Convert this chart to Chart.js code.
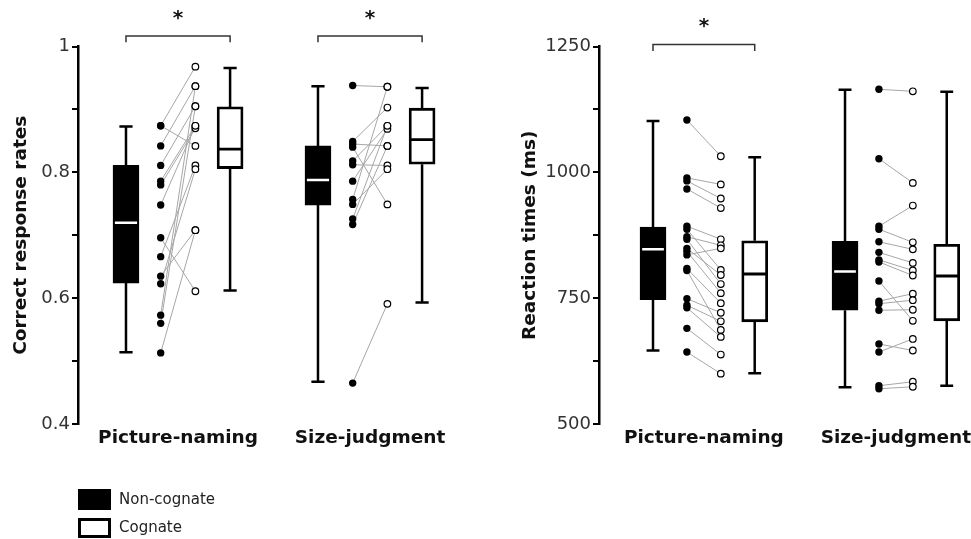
<!DOCTYPE html>
<html>
<head>
<meta charset="utf-8">
<script src="https://cdn.jsdelivr.net/npm/chart.js@4.4.0/dist/chart.umd.min.js"></script>
<style>
  body { margin: 0; background: #fff; width: 971px; height: 539px; overflow: hidden; position: relative; font-family: "DejaVu Sans", Verdana, sans-serif; }
  #accCanvas { position: absolute; left: 0; top: 0; }
  #rtCanvas { position: absolute; left: 490px; top: 0; }
  .lg-box { position: absolute; left: 78px; width: 33px; box-sizing: border-box; }
  .lg-text { position: absolute; left: 119px; font-size: 15px; color: #222; line-height: 18px; }
</style>
</head>
<body>
<canvas id="accCanvas" width="490" height="539"></canvas>
<canvas id="rtCanvas" width="500" height="539"></canvas>

<div class="lg-box" style="top:489px;height:21px;background:#000;"></div>
<div class="lg-text" style="top:490px;">Non-cognate</div>
<div class="lg-box" style="top:518px;height:20px;background:#fff;border:3px solid #000;"></div>
<div class="lg-text" style="top:518px;">Cognate</div>

<script>
// ---- data ----
const groupLabels = ['Picture-naming', 'Size-judgment'];

// box stats per group: [min, q1, median, q3, max]
const accBoxNonCog = [[0.514, 0.624, 0.720, 0.811, 0.873], [0.467, 0.748, 0.788, 0.842, 0.937]];
const accBoxCog    = [[0.612, 0.806, 0.837, 0.904, 0.966], [0.593, 0.813, 0.852, 0.902, 0.934]];

// participants, correct response rates (same index = same participant)
const accPNNonCog = [0.874, 0.874, 0.842, 0.811, 0.786, 0.780, 0.748, 0.696, 0.666, 0.635, 0.623, 0.573, 0.560, 0.513];
const accPNCog    = [0.968, 0.842, 0.937, 0.905, 0.874, 0.870, 0.874, 0.611, 0.811, 0.708, 0.805, 0.937, 0.905, 0.708];
const accSJNonCog = [0.938, 0.849, 0.845, 0.840, 0.818, 0.812, 0.786, 0.757, 0.749, 0.726, 0.717, 0.465];
const accSJCog    = [0.936, 0.903, 0.842, 0.749, 0.874, 0.811, 0.869, 0.936, 0.805, 0.874, 0.842, 0.591];

const rtBoxNonCog = [[646, 747, 847, 891, 1102], [573, 726, 803, 863, 1164]];
const rtBoxCog    = [[601, 703, 798, 864, 1030], [576, 705, 794, 857, 1160]];

// participants, reaction times (ms)
const rtPNNonCog = [1104, 989, 983, 967, 893, 887, 872, 867, 849, 843, 836, 809, 805, 749, 736, 731, 690, 643];
const rtPNCog    = [1032, 976, 948, 929, 867, 806, 855, 778, 796, 760, 849, 740, 687, 721, 704, 673, 638, 600];
const rtSJNonCog = [1165, 1027, 893, 887, 862, 841, 826, 822, 784, 744, 739, 726, 659, 643, 576, 570];
const rtSJCog    = [1161, 979, 934, 861, 847, 820, 805, 795, 705, 759, 746, 727, 646, 669, 584, 574];

// significant difference (*) per group
const accSig = [true, true];
const rtSig = [true, false];

const accTickLabels = ['0.4', '0.6', '0.8', '1'];
const rtTickLabels = ['500', '750', '1000', '1250'];

const FONT = '"DejaVu Sans", Verdana, sans-serif';

// draws the * above each bracket
const starPlugin = {
  id: 'sigStars',
  afterDatasetsDraw(chart, args, opts) {
    const { ctx, scales } = chart;
    ctx.save();
    ctx.font = 'bold 20px ' + FONT;
    ctx.fillStyle = '#111';
    ctx.textAlign = 'center';
    ctx.textBaseline = 'alphabetic';
    (opts.items || []).forEach(it => {
      const px = scales.x.getPixelForValue(it.x);
      const py = scales.y.getPixelForValue(it.y);
      ctx.fillText('*', px, py - 12);
    });
    ctx.restore();
  }
};

function boxLines(x, s, cap) {
  return [
    { x: x, y: s[0] }, { x: x, y: s[1] }, { x: x, y: null },
    { x: x, y: s[3] }, { x: x, y: s[4] }, { x: x, y: null },
    { x: x - cap, y: s[0] }, { x: x + cap, y: s[0] }, { x: x, y: null },
    { x: x - cap, y: s[4] }, { x: x + cap, y: s[4] }, { x: x, y: null }
  ];
}

function makePanel(canvasId, p) {
  const whisk = [], barsNC = [], barsC = [], medNC = [], medC = [];
  const pairs = [], dotsNC = [], dotsC = [], brackets = [], stars = [];

  p.offsets.forEach((off, g) => {
    const sNC = p.boxNC[g], sC = p.boxC[g];
    whisk.push(...boxLines(off, sNC, 0.19), ...boxLines(off + 3, sC, 0.19));
    barsNC.push({ x: off, y: [sNC[1], sNC[3]] });
    barsC.push({ x: off + 3, y: [sC[1], sC[3]] });
    medNC.push({ x: off - 0.32, y: sNC[2] }, { x: off + 0.32, y: sNC[2] }, { x: off, y: null });
    medC.push({ x: off + 3 - 0.36, y: sC[2] }, { x: off + 3 + 0.36, y: sC[2] }, { x: off + 3, y: null });
    p.nc[g].forEach((v, i) => {
      pairs.push({ x: off + 1, y: v }, { x: off + 2, y: p.c[g][i] }, { x: off + 1.5, y: null });
      dotsNC.push({ x: off + 1, y: v });
      dotsC.push({ x: off + 2, y: p.c[g][i] });
    });
    if (p.sig[g]) {
      brackets.push({ x: off, y: p.brLow }, { x: off, y: p.brTop }, { x: off + 3, y: p.brTop },
                    { x: off + 3, y: p.brLow }, { x: off, y: null });
      stars.push({ x: off + 1.5, y: p.brTop });
    }
  });

  const tickPos = p.offsets.map(o => o + 1.5);

  new Chart(document.getElementById(canvasId), {
    type: 'bar',
    data: {
      datasets: [
        { type: 'line', data: pairs, borderColor: '#a6a6a6', borderWidth: 1, pointRadius: 0, spanGaps: false, order: 5 },
        { type: 'line', data: whisk, borderColor: '#000', borderWidth: 2.5, pointRadius: 0, spanGaps: false, order: 4 },
        { type: 'bar', data: barsNC, backgroundColor: '#000', borderColor: '#000', borderWidth: 2,
          borderSkipped: false, barThickness: 26, grouped: false, order: 3 },
        { type: 'bar', data: barsC, backgroundColor: '#fff', borderColor: '#000', borderWidth: 2.8,
          borderSkipped: false, barThickness: 26, grouped: false, order: 3 },
        { type: 'line', data: medNC, borderColor: '#fff', borderWidth: 2.5, pointRadius: 0, spanGaps: false, order: 2 },
        { type: 'line', data: medC, borderColor: '#000', borderWidth: 2.8, pointRadius: 0, spanGaps: false, order: 2 },
        { type: 'line', data: dotsNC, showLine: false, pointRadius: 3.7, pointBackgroundColor: '#000',
          pointBorderColor: '#000', pointBorderWidth: 0, order: 1 },
        { type: 'line', data: dotsC, showLine: false, pointRadius: 3.3, pointBackgroundColor: '#fff',
          pointBorderColor: '#000', pointBorderWidth: 1.2, order: 0 },
        { type: 'line', data: brackets, borderColor: '#333', borderWidth: 1.5, pointRadius: 0,
          spanGaps: false, clip: false, order: 0 }
      ]
    },
    options: {
      responsive: false,
      animation: false,
      events: [],
      layout: { padding: { top: 46.5, right: p.padRight, bottom: 0, left: 0 } },
      plugins: { legend: { display: false }, tooltip: { enabled: false }, sigStars: { items: stars } },
      scales: {
        x: {
          type: 'linear',
          offset: false,
          min: p.xMin,
          max: p.xMax,
          grid: { display: false, drawTicks: false },
          border: { display: false },
          afterBuildTicks: s => { s.ticks = tickPos.map(v => ({ value: v })); },
          afterFit: s => { s.height = 115; },
          ticks: {
            autoSkip: false,
            maxRotation: 0,
            padding: 3,
            color: '#111',
            font: { family: FONT, size: 18.5, weight: 'bold' },
            callback: (v, i) => groupLabels[i]
          }
        },
        y: {
          min: p.yMin,
          max: p.yMax,
          afterFit: s => { s.width = p.yAxisW; },
          border: { display: true, color: '#000', width: 2.5 },
          grid: { drawOnChartArea: false, drawTicks: true, tickLength: 6, color: '#000', lineWidth: 2 },
          ticks: {
            stepSize: p.step,
            padding: 2,
            color: '#333',
            font: { family: FONT, size: 18 },
            callback: v => p.tickLabels.includes(String(v)) ? String(v) : ''
          },
          title: {
            display: true,
            text: p.title,
            color: '#111',
            padding: { top: p.titlePad, bottom: 0 },
            font: { family: FONT, size: 18.5, weight: 'bold' }
          }
        }
      }
    },
    plugins: [starPlugin]
  });
}

makePanel('accCanvas', {
  offsets: [0, 5.533],
  boxNC: accBoxNonCog, boxC: accBoxCog,
  nc: [accPNNonCog, accSJNonCog], c: [accPNCog, accSJCog],
  sig: accSig, brLow: 1.0067, brTop: 1.0167,
  xMin: -1.383, xMax: 10.202, padRight: 10, yAxisW: 78,
  yMin: 0.4, yMax: 1, step: 0.1, tickLabels: accTickLabels,
  title: 'Correct response rates', titlePad: 10
});

makePanel('rtCanvas', {
  offsets: [0, 5.664],
  boxNC: rtBoxNonCog, boxC: rtBoxCog,
  nc: [rtPNNonCog, rtSJNonCog], c: [rtPNCog, rtSJCog],
  sig: rtSig, brLow: 1241, brTop: 1254,
  xMin: -1.593, xMax: 9.38, padRight: 19, yAxisW: 109,
  yMin: 500, yMax: 1250, step: 125, tickLabels: rtTickLabels,
  title: 'Reaction times (ms)', titlePad: 29
});
</script>
</body>
</html>
